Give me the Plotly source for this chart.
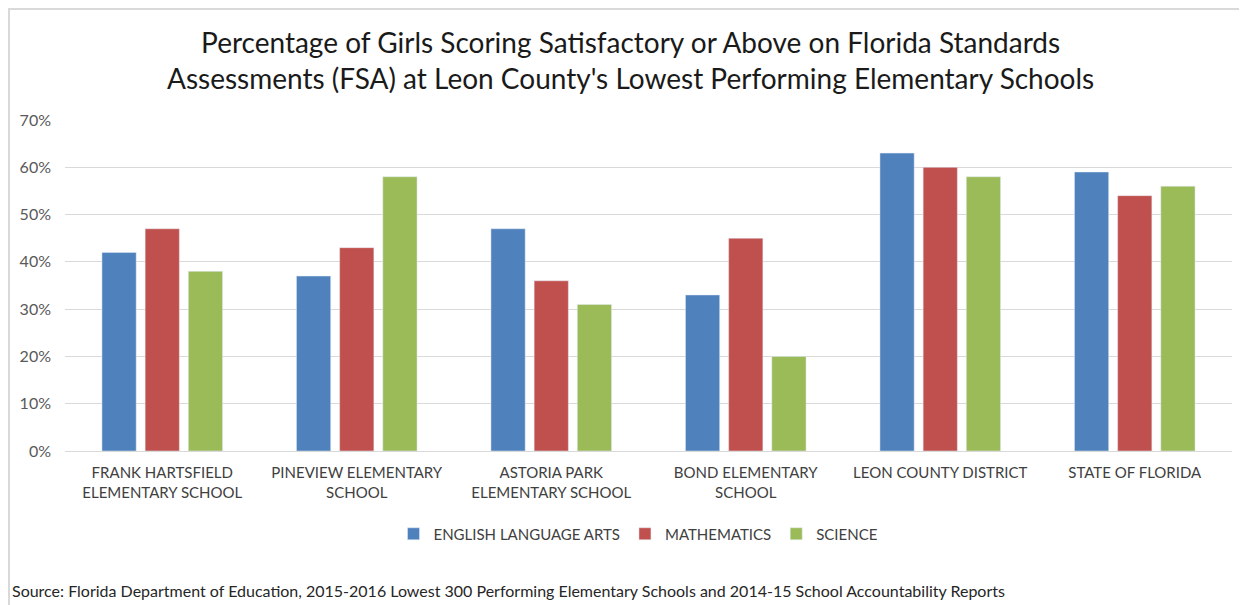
import plotly.graph_objects as go

# values (fraction of girls scoring satisfactory+)
schools = [
    "FRANK HARTSFIELD<br>ELEMENTARY SCHOOL",
    "PINEVIEW ELEMENTARY<br>SCHOOL",
    "ASTORIA PARK<br>ELEMENTARY SCHOOL",
    "BOND ELEMENTARY<br>SCHOOL",
    "LEON COUNTY DISTRICT",
    "STATE OF FLORIDA",
]
ela = [0.42, 0.37, 0.47, 0.33, 0.63, 0.59]
math = [0.47, 0.43, 0.36, 0.45, 0.60, 0.54]
science = [0.38, 0.58, 0.31, 0.20, 0.58, 0.56]

series_names = ["ENGLISH LANGUAGE ARTS", "MATHEMATICS", "SCIENCE"]
colors = ["#4F81BD", "#C0504D", "#9BBB59"]

title = ("Percentage of Girls Scoring Satisfactory or Above on Florida Standards<br>"
         "Assessments (FSA) at Leon County's Lowest Performing Elementary Schools")
source = ("Source: Florida Department of Education, 2015-2016 Lowest 300 Performing "
          "Elementary Schools and 2014-15 School Accountability Reports")

FONT = "Lato, Open Sans, sans-serif"

fig = go.Figure()
for name, vals, col in zip(series_names, [ela, math, science], colors):
    fig.add_trace(go.Bar(x=schools, y=vals, name=name, marker_color=col,
                         hoverinfo="y+name"))

# the page body has an 8px margin, so work in page pixels and shift back
OFF = 8
W, H = 1247 - OFF, 605 - OFF
L, T = 65 - OFF, 120 - OFF
R = W - (1232 - OFF)
B = H - (451 - OFF)
pw, ph = W - L - R, H - T - B

def px(x):
    return (x - OFF - L) / pw

def py_(y):
    return (H - B - (y - OFF)) / ph

fig.update_layout(
    width=W, height=H,
    margin=dict(l=L, r=R, t=T, b=B),
    paper_bgcolor="white", plot_bgcolor="white",
    font=dict(family=FONT, size=14, color="#404040"),
    barmode="group", bargap=0.334, bargroupgap=0.207,
    showlegend=True,
    legend=dict(orientation="h", x=px(638), xanchor="center", y=py_(534), yanchor="middle",
                font=dict(size=15, color="#404040"), traceorder="normal"),
    xaxis=dict(showline=False, ticks="", tickfont=dict(size=15, color="#404040"),
               ticklabelstandoff=11),
    yaxis=dict(range=[0, 0.7], dtick=0.1, tickformat=".0%", showgrid=True,
               gridcolor="#D9D9D9", gridwidth=1, zeroline=True, zerolinecolor="#D9D9D9",
               zerolinewidth=1, tickfont=dict(size=16, color="#595959"), ticklabelstandoff=13),
    # outer chart border (only the top and left edges fall inside the window)
    shapes=[dict(type="rect", xref="paper", yref="paper",
                 x0=px(9), x1=px(1262), y0=py_(640), y1=py_(9),
                 line=dict(color="#D9D9D9", width=2), fillcolor="rgba(0,0,0,0)", layer="below")],
    annotations=[
        dict(text=title, xref="paper", yref="paper", x=px(630), y=py_(60),
             xanchor="center", yanchor="middle", showarrow=False,
             font=dict(size=28, color="#1a1a1a")),
        dict(text=source, xref="paper", yref="paper", x=px(10), y=py_(590),
             xanchor="left", yanchor="middle", showarrow=False,
             font=dict(size=16, color="#262626")),
    ],
)

fig.write_html("out.html")
